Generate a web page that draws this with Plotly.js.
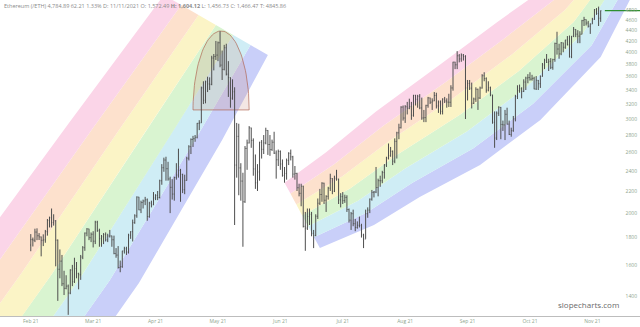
<!DOCTYPE html>
<html><head><meta charset="utf-8">
<script src="https://cdn.plot.ly/plotly-3.0.1.min.js"></script>
<style>html,body{margin:0;padding:0;background:#fff;}#chart{width:640px;height:327px;}</style>
</head><body><div id="chart"></div>
<script>
// ---------- DATA: Ethereum daily OHLC, 2021-02-10 .. 2021-11-11 ----------
const startDate = '2021-02-10';
const opens = [
1743,1784,1780,1843,1814,1805,1779,1782,1846,1937,1960,1920,1935,1780,1570,1626,1475,1446,1460,
1417,1565,1488,1575,1541,1533,1655,1723,1835,1868,1799,1826,1772,1924,1854,1791,1806,1823,1782,1812,1813,1783,1680,1669,1582,1588,1699,1715,1691,1819,1846,
1919,1977,2143,2028,2093,2107,2118,1971,2088,2072,2135,2157,2139,2299,2432,2514,2422,2317,2235,2171,2332,2357,2404,2363,2212,2303,2534,2662,2747,2756,
2773,2945,2950,3431,3253,3522,3490,3484,3902,3928,3952,4168,3785,3715,4079,3640,3587,3282,3374,2460,2784,2430,2296,2100,2643,2706,2888,2736,2419,2279,2388,
2714,2633,2706,2856,2688,2630,2715,2590,2517,2608,2471,2353,2372,2510,2588,2549,2366,2373,2231,2178,2246,1889,1875,1971,1990,1833,1817,1973,2087,2167,
2275,2114,2150,2227,2322,2198,2324,2315,2117,2147,2111,2140,2031,1940,1995,1911,1880,1898,1895,1820,1788,1995,2026,2124,2187,2190,2233,2300,2299,2382,2461,
2536,2561,2610,2502,2724,2827,2890,3158,3013,3163,3143,3164,3049,3322,3266,3310,3147,3013,3018,3182,3286,3226,3243,3320,3174,3228,3100,3270,3243,3227,3225,
3430,3834,3790,3940,3887,3953,3927,3429,3497,3427,3211,3270,3410,3285,3429,3615,3571,3398,3433,3329,2958,2764,3077,3155,2931,2925,3062,2934,2807,2853,
3001,3307,3391,3418,3380,3518,3580,3587,3563,3575,3415,3545,3493,3606,3788,3865,3830,3847,3748,3877,4155,4057,3972,4168,4087,4218,4132,3923,4288,4414,4325,
4288,4324,4585,4607,4537,4476,4518,4611,4808,4728,4633];
const highs = [
1827,1800,1870,1873,1835,1808,1825,1860,1950,1970,2040,1990,1940,1785,1710,1670,1560,1530,1470,
1570,1600,1650,1620,1547,1670,1735,1840,1875,1870,1840,1850,1935,1935,1870,1820,1835,1840,1830,1860,1815,1815,1720,1735,1630,1700,1730,1730,1830,1850,1945,
1990,2150,2145,2110,2120,2145,2130,2100,2110,2190,2170,2200,2310,2470,2540,2550,2495,2340,2315,2340,2480,2640,2420,2370,2360,2550,2680,2760,2790,2800,
2950,2985,3450,3530,3540,3600,3590,3940,3970,4200,4190,4380,4030,4130,4150,3850,3590,3560,3440,2950,2940,2480,2380,2670,2745,2910,2890,2760,2575,2470,2720,
2740,2800,2890,2860,2800,2745,2840,2620,2630,2620,2520,2440,2530,2600,2630,2560,2450,2380,2270,2270,2250,2010,2040,2040,2010,1860,1990,2130,2220,2285,
2280,2160,2240,2370,2325,2350,2410,2320,2180,2190,2165,2160,2040,2010,2030,1950,1930,1970,1910,1830,2030,2050,2130,2210,2200,2440,2320,2350,2400,2470,2550,
2700,2660,2620,2760,2840,2940,3170,3180,3185,3230,3275,3230,3330,3330,3330,3340,3290,3120,3190,3300,3290,3280,3370,3360,3250,3250,3280,3300,3280,3345,3470,
3840,3840,4020,3970,3980,3970,3950,3550,3550,3510,3290,3440,3420,3450,3640,3670,3590,3530,3450,3330,3100,3100,3170,3160,2980,3120,3150,2980,2890,3040,
3330,3470,3480,3440,3560,3600,3640,3670,3630,3600,3610,3550,3620,3820,3890,3970,3890,3900,3890,4170,4370,4150,4180,4170,4220,4290,4300,4290,4460,4420,4400,
4380,4600,4660,4610,4580,4530,4640,4820,4840,4870,4790];
const lows = [
1697,1732,1765,1780,1781,1660,1735,1760,1815,1880,1880,1895,1590,1370,1510,1460,1405,1440,1290,
1410,1460,1480,1510,1440,1500,1640,1700,1810,1780,1765,1725,1750,1845,1730,1730,1750,1770,1765,1800,1730,1675,1650,1575,1550,1580,1680,1670,1680,1790,1770,
1910,1960,2025,2000,2040,2070,1935,1960,2050,2070,2115,2115,2130,2260,2390,2300,2300,2000,2120,2110,2310,2330,2100,2180,2170,2300,2510,2580,2660,2720,
2760,2860,2950,3200,3210,3370,3400,3470,3700,3870,3850,3750,3550,3700,3620,3300,3150,3260,1900,2330,2160,2110,1730,2090,2410,2700,2650,2350,2220,2200,2300,
2530,2580,2690,2570,2560,2615,2580,2320,2450,2410,2340,2280,2310,2460,2510,2330,2310,2200,2150,2060,1880,1700,1860,1900,1810,1720,1810,1950,2070,2100,
2080,2010,2120,2200,2170,2190,2300,2080,2050,2080,2090,2010,1920,1860,1890,1850,1870,1880,1800,1720,1790,1960,2000,2110,2140,2180,2150,2240,2275,2320,2440,
2520,2550,2460,2480,2530,2750,2880,2980,2950,3060,3130,2990,3030,3180,3150,3130,2990,2960,2960,3150,3200,3120,3240,3140,3080,3060,3060,3215,3150,3160,3160,
3390,3720,3720,3830,3840,3860,3000,3250,3400,3140,3200,3230,3120,3270,3420,3530,3360,3380,3310,2940,2650,2740,3040,2750,2850,2740,2930,2800,2780,2840,
2970,3270,3360,3280,3370,3400,3500,3540,3540,3410,3400,3400,3430,3600,3720,3820,3690,3720,3710,3840,3960,3890,3950,4000,4060,4120,3910,3900,4270,4270,4160,
4160,4320,4480,4490,4450,4330,4520,4600,4700,4480,4560];
const closes = [
1784,1780,1843,1814,1805,1779,1782,1846,1937,1960,1920,1935,1780,1570,1626,1475,1446,1460,1417,
1565,1488,1575,1541,1533,1655,1723,1835,1868,1799,1826,1772,1924,1854,1791,1806,1823,1782,1812,1813,1783,1680,1669,1582,1588,1699,1715,1691,1819,1846,1919,
1977,2143,2028,2093,2107,2118,1971,2088,2072,2135,2157,2139,2299,2432,2514,2422,2317,2235,2171,2332,2357,2404,2363,2212,2303,2534,2662,2747,2756,2773,
2945,2950,3431,3253,3522,3490,3484,3902,3928,3952,4168,3785,3715,4079,3640,3587,3282,3374,2460,2784,2430,2296,2100,2643,2706,2888,2736,2419,2279,2388,2714,
2633,2706,2856,2688,2630,2715,2590,2517,2608,2471,2353,2372,2510,2588,2549,2366,2373,2231,2178,2246,1889,1875,1971,1990,1833,1817,1973,2087,2167,2275,
2114,2150,2227,2322,2198,2324,2315,2117,2147,2111,2140,2031,1940,1995,1911,1880,1898,1895,1820,1788,1995,2026,2124,2187,2190,2233,2300,2299,2382,2461,2536,
2561,2610,2502,2724,2827,2890,3158,3013,3163,3143,3164,3049,3322,3266,3310,3147,3013,3018,3182,3286,3226,3243,3320,3174,3228,3100,3270,3243,3227,3225,3430,
3834,3790,3940,3887,3953,3927,3429,3497,3427,3211,3270,3410,3285,3429,3615,3571,3398,3433,3329,2958,2764,3077,3155,2931,2925,3062,2934,2807,2853,3001,
3307,3391,3418,3380,3518,3580,3587,3563,3575,3415,3545,3493,3606,3788,3865,3830,3847,3748,3877,4155,4057,3972,4168,4087,4218,4132,3923,4288,4414,4325,4288,
4324,4585,4607,4537,4476,4518,4611,4808,4728,4633,4785];

const tickDates  = ['2021-02-10','2021-03-12','2021-04-11','2021-05-11','2021-06-10','2021-07-10','2021-08-09','2021-09-08','2021-10-08','2021-11-07'];
const tickLabels = ['Feb 21','Mar 21','Apr 21','May 21','Jun 21','Jul 21','Aug 21','Sep 21','Oct 21','Nov 21'];
const priceTicks = [1400,1600,1800,2000,2200,2400,2600,2800,3000,3200,3400,3600,3800,4000,4200,4400,4600,4800];
const lastPrice = 4784.89;
const headerText = 'Ethereum (/ETH) 4,784.89 62.21 1.33% D: 11/11/2021 O: 1,572.49 <b>H: 1,604.12</b> L: 1,456.73 C: 1,466.47 T: 4845.86';

// drawing anchors (date, price): outer edges of the two rainbow channels
const leftLower  = [['2021-03-08',1061],['2021-03-23',1284],['2021-04-03',1480],['2021-05-13',2740],['2021-06-04',3953]];
const leftUpper  = [['2020-12-14',1152],['2020-12-28',1376],['2021-01-09',1592],['2021-02-28',2937],['2021-04-15',5120]];
const rightLower = [['2021-06-29',1720],['2021-07-25',1900],['2021-08-16',2144],['2021-09-14',2461],['2021-10-13',2988],['2021-11-11',3919],['2021-11-25',5011],['2021-12-02',5703]];
const rightUpper = [['2021-06-12',2280],['2021-07-02',2600],['2021-07-26',3100],['2021-08-26',3800],['2021-09-22',4550],['2021-10-16',5300],['2021-10-30',5800],['2021-11-08',6200]];
const arch = {from:'2021-04-29', to:'2021-05-26', base:3120, top:4385};

// ---------- geometry helpers ----------
const W = 640, PH = 316;
const X0 = Date.UTC(2021,0,26,5,0), X1 = Date.UTC(2021,10,29,21,40);
const Y0 = Math.log10(1283.6), Y1 = Math.log10(5011);
const ms = s => Date.parse(s + 'T00:00:00Z');
const toPx = t => (t - X0) / (X1 - X0) * W;
const toPy = p => PH * (Y1 - Math.log10(p)) / (Y1 - Y0);
const fromPx = x => X0 + x / W * (X1 - X0);
const fromPy = y => Math.pow(10, Y1 - y / PH * (Y1 - Y0));

const dates = closes.map((_, i) => ms(startDate) + i * 86400000);

// bands listed from the lower edge (violet) to the upper edge (pink)
const bandColors = ['#c9cff9','#cfedf5','#d9f4d0','#fbf4c6','#fde1cd','#fbd5e8'];

function channelTraces(lower, upper) {
  const lo = lower.map(a => [toPx(ms(a[0])), toPy(a[1])]);
  const up = upper.map(a => [toPx(ms(a[0])), toPy(a[1])]);
  const edge = f => lo.map((p, i) => [p[0] + (up[i][0] - p[0]) * f, p[1] + (up[i][1] - p[1]) * f]);
  const n = bandColors.length;
  return bandColors.map((c, k) => {
    const poly = edge(k / n).concat(edge((k + 1) / n).reverse());
    poly.push(poly[0]);
    return {type:'scatter', mode:'lines', xaxis:'x', yaxis:'y', x: poly.map(p => fromPx(p[0])), y: poly.map(p => fromPy(p[1])),
      fill:'toself', fillcolor:c, line:{width:0}, hoverinfo:'skip', showlegend:false};
  });
}

const traces = [];
traces.push(...channelTraces(leftLower, leftUpper));
traces.push(...channelTraces(rightLower, rightUpper));

// arch (half ellipse)
(function(){
  const xl = toPx(ms(arch.from)), xr = toPx(ms(arch.to));
  const cx = (xl + xr) / 2, a = (xr - xl) / 2, by = toPy(arch.base), h = by - toPy(arch.top);
  const ax = [], ay = [];
  for (let i = 0; i <= 60; i++) { const th = Math.PI * i / 60; ax.push(fromPx(cx + a * Math.cos(th))); ay.push(fromPy(by - h * Math.sin(th))); }
  ax.push(ax[0]); ay.push(ay[0]);
  traces.push({type:'scatter', mode:'lines', xaxis:'x', yaxis:'y', x:ax, y:ay, fill:'toself', fillcolor:'rgba(205,145,130,0.22)',
    line:{color:'rgba(175,100,80,0.85)', width:0.8}, hoverinfo:'skip', showlegend:false});
})();

// price bars on an overlaid pair of axes so they sit above the filled bands
traces.push({type:'ohlc', xaxis:'x2', yaxis:'y2', x:dates, open:opens, high:highs, low:lows, close:closes,
  increasing:{line:{color:'#4e4e4e', width:1}}, decreasing:{line:{color:'#4e4e4e', width:1}},
  tickwidth:0.3, hoverinfo:'skip', showlegend:false});

traces.push({type:'scatter', mode:'lines', xaxis:'x2', yaxis:'y2', x:[dates[dates.length-1] + 2*86400000, X1], y:[lastPrice,lastPrice],
  line:{color:'#2f8f2f', width:1.2}, hoverinfo:'skip', showlegend:false});

const labelColor = '#8ea58e';
const layout = {
  width:640, height:327, margin:{l:0, r:0, t:0, b:11},
  paper_bgcolor:'#fff', plot_bgcolor:'#fff', showlegend:false,
  font:{family:'Open Sans, sans-serif'},
  xaxis:{type:'date', range:[X0, X1], tickvals:tickDates.map(ms), ticktext:tickLabels,
    tickfont:{size:5, color:labelColor}, showgrid:false, zeroline:false, showline:true, linecolor:'#bdbdbd', linewidth:1,
    ticks:'', rangeslider:{visible:false}, fixedrange:true},
  yaxis:{type:'log', range:[Y0, Y1], side:'right', ticklabelposition:'inside', tickvals:priceTicks, ticktext:priceTicks.map(String),
    tickfont:{size:5, color:labelColor}, showgrid:false, zeroline:false, showline:false, ticks:'', fixedrange:true},
  xaxis2:{type:'date', overlaying:'x', range:[X0, X1], visible:false, rangeslider:{visible:false}, fixedrange:true},
  yaxis2:{type:'log', overlaying:'y', range:[Y0, Y1], visible:false, fixedrange:true},
  annotations:[
    {xref:'paper', yref:'paper', x:0.003, y:1, xanchor:'left', yanchor:'top', showarrow:false, text:headerText,
     font:{size:5.5, color:'#8a8a8a'}},
    {xref:'paper', yref:'paper', x:0.97, y:0.012, xanchor:'right', yanchor:'bottom', showarrow:false, text:'slopecharts.com',
     font:{size:8, color:'#6a6a6a'}}
  ]
};
Plotly.newPlot('chart', traces, layout, {staticPlot:true, displayModeBar:false});
</script></body></html>
